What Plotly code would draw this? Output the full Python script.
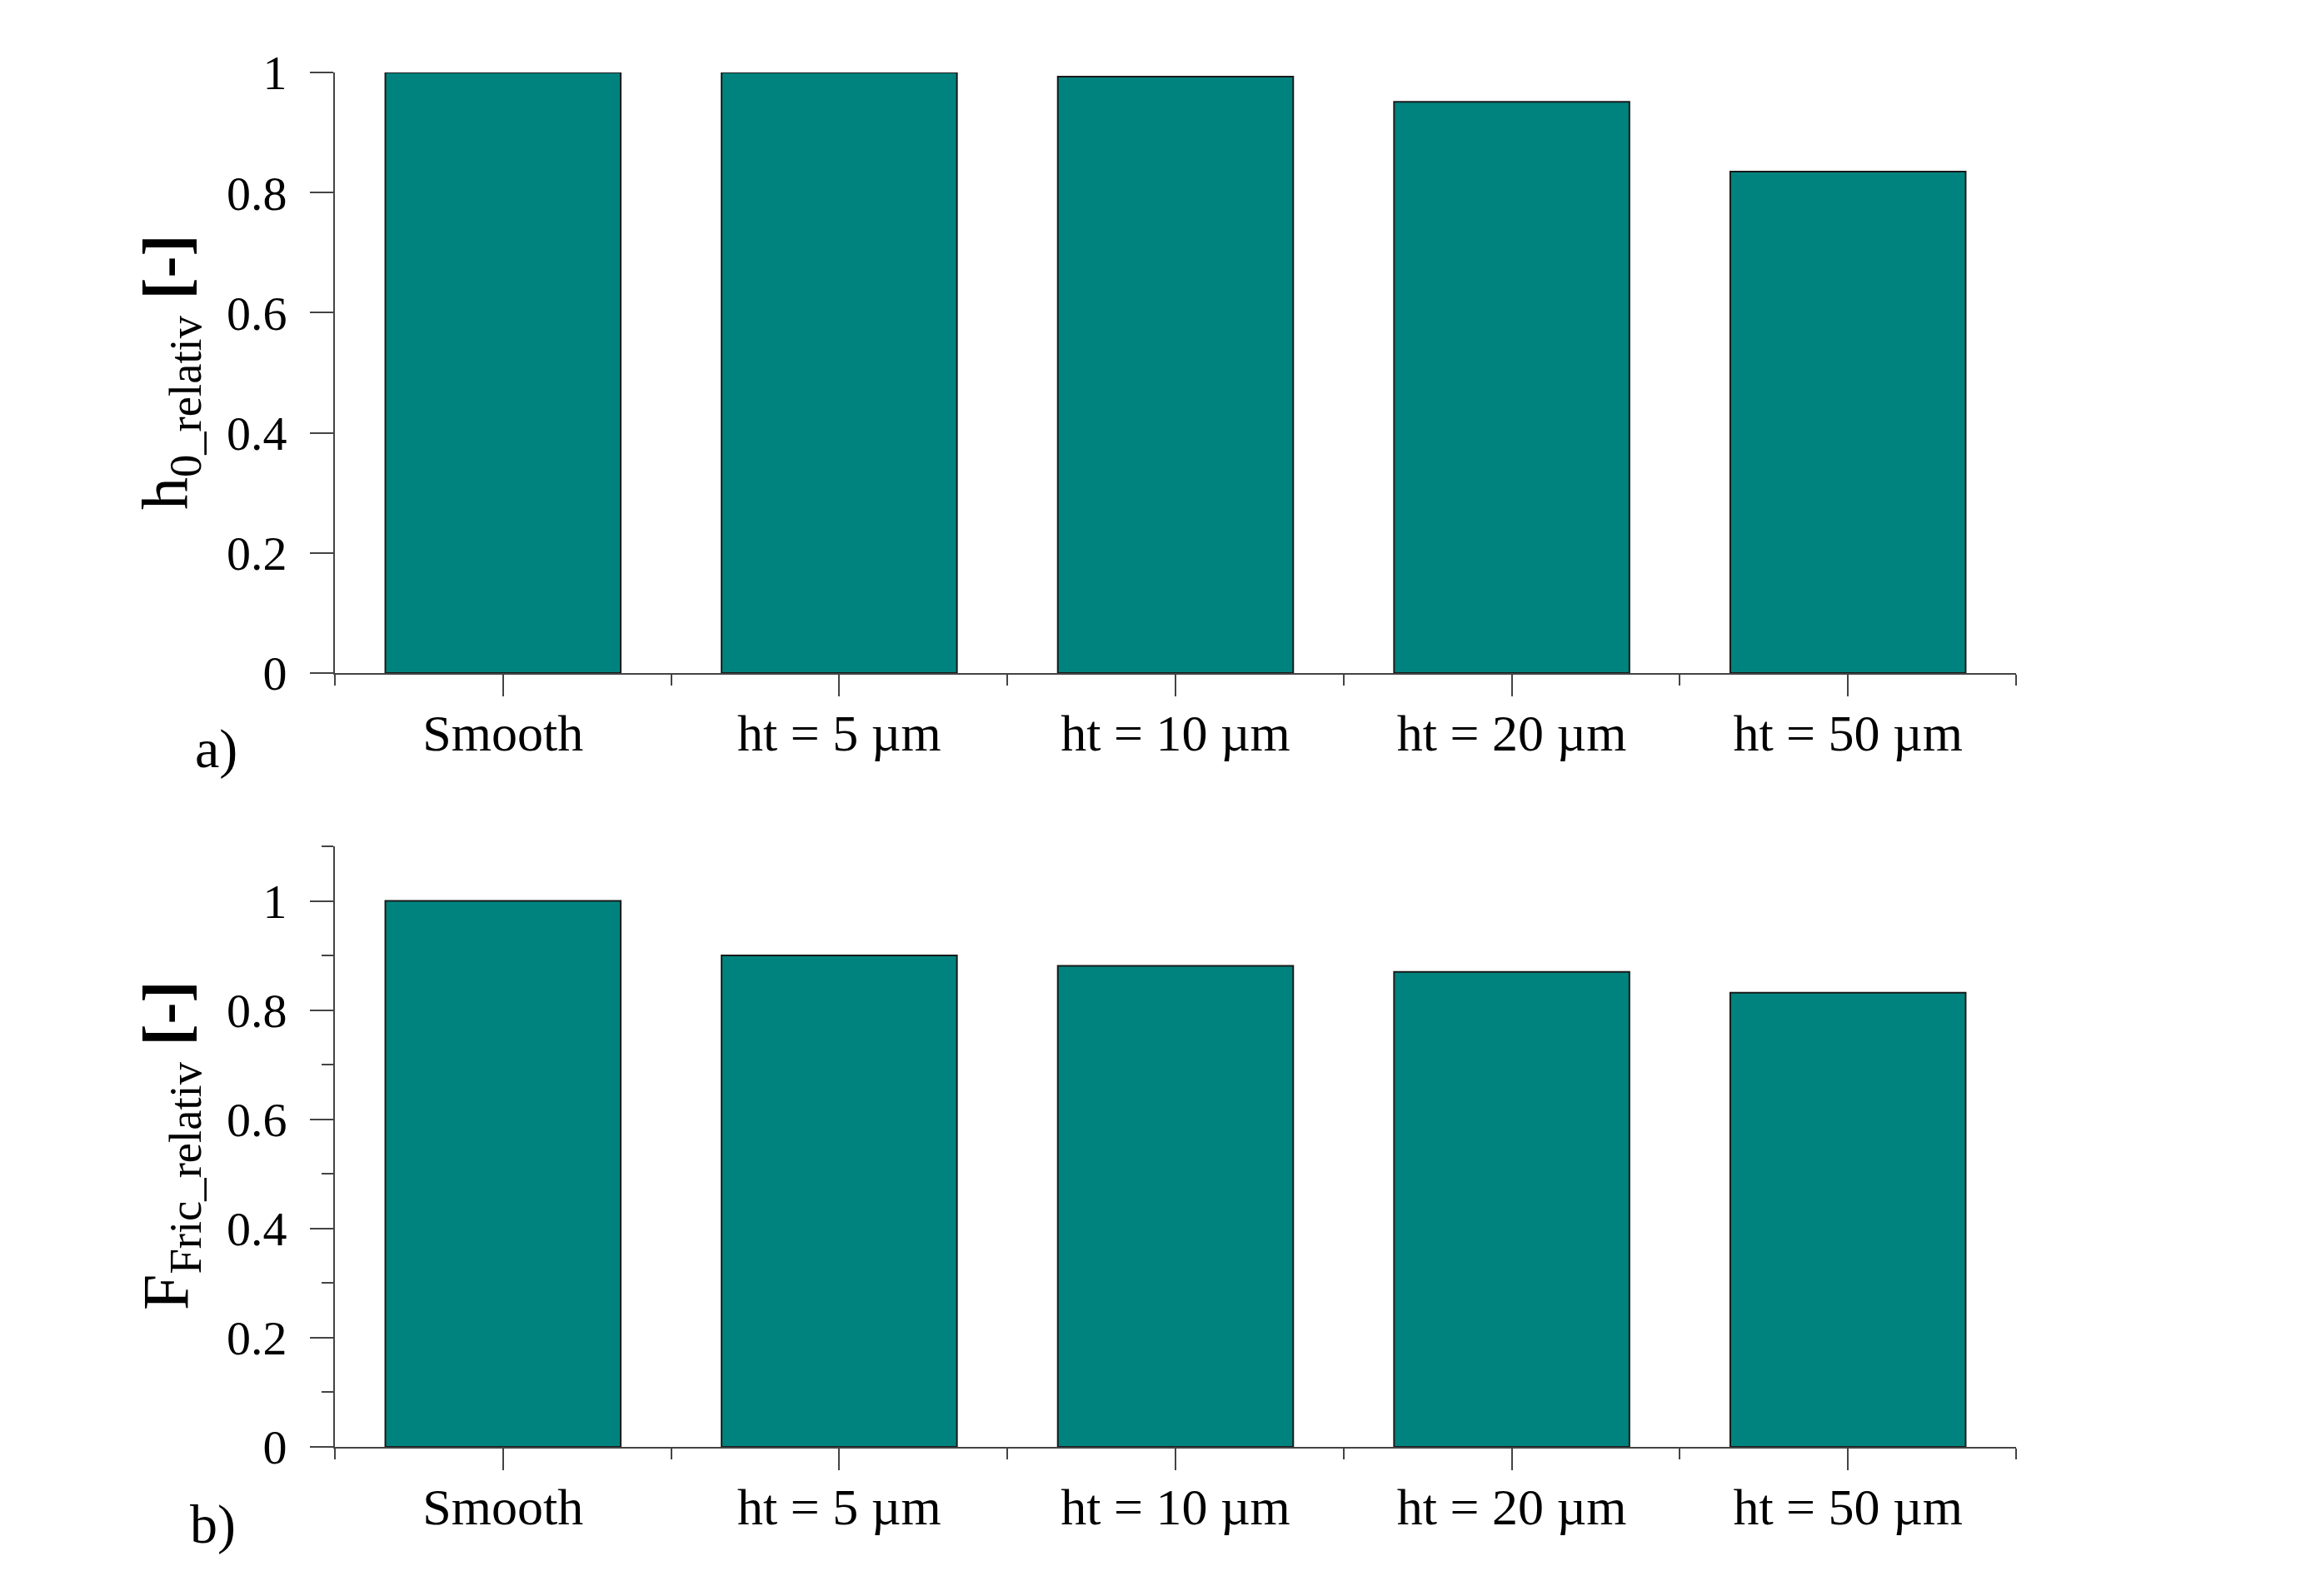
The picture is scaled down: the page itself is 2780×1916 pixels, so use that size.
import plotly.graph_objects as go

categories = ["Smooth", "ht = 5 µm", "ht = 10 µm", "ht = 20 µm", "ht = 50 µm"]
h0_relativ = [1.0, 1.0, 0.993, 0.951, 0.835]
ffric_relativ = [1.0, 0.900, 0.881, 0.870, 0.832]
y_ticks = [0, 0.2, 0.4, 0.6, 0.8, 1]
y_ticktext = ["0", "0.2", "0.4", "0.6", "0.8", "1"]

BAR = "#00837F"
AXIS = "#444444"
FONT = "Liberation Serif"
W, H = 2780, 1916
OFF = 8  # page body margin


def px(x):
    return (x - OFF) / W


def py(y):
    return (H - (y - OFF)) / H


xpos = list(range(len(categories)))
bounds = [i - 0.5 for i in range(len(categories) + 1)]

fig = go.Figure()
for vals, xa, ya in [(h0_relativ, "x", "y"), (ffric_relativ, "x2", "y2")]:
    fig.add_trace(
        go.Bar(
            x=xpos,
            y=vals,
            xaxis=xa,
            yaxis=ya,
            width=0.7,
            marker=dict(color=BAR, line=dict(color="#1a1a1a", width=2)),
            showlegend=False,
        )
    )

xaxis_common = dict(
    domain=[px(402), px(2420)],
    automargin=False,
    range=[-0.5, len(categories) - 0.5],
    tickmode="array",
    tickvals=xpos,
    ticktext=categories,
    ticks="outside",
    ticklen=26,
    tickwidth=2,
    tickcolor=AXIS,
    ticklabelstandoff=-9,
    showline=True,
    linecolor=AXIS,
    linewidth=2,
    showgrid=False,
    zeroline=False,
    tickfont=dict(family=FONT, size=62, color="black"),
    minor=dict(tickmode="array", tickvals=bounds, ticks="outside", ticklen=13, tickwidth=2, tickcolor=AXIS),
)
yaxis_common = dict(
    automargin=False,
    tickmode="array",
    tickvals=y_ticks,
    ticktext=y_ticktext,
    ticks="outside",
    ticklen=28,
    tickwidth=2,
    tickcolor=AXIS,
    ticklabelstandoff=16,
    showline=True,
    linecolor=AXIS,
    linewidth=2,
    showgrid=False,
    zeroline=False,
    tickfont=dict(family=FONT, size=58, color="black"),
)

label_font = dict(family=FONT, size=66, color="black")
title_font = dict(family=FONT, size=78, color="black")

fig.update_layout(
    width=W,
    height=H,
    margin=dict(l=0, r=0, t=0, b=0),
    paper_bgcolor="white",
    plot_bgcolor="white",
    xaxis=dict(xaxis_common, anchor="y"),
    yaxis=dict(yaxis_common, domain=[py(808), py(87)], range=[0, 1], anchor="x"),
    xaxis2=dict(xaxis_common, anchor="y2"),
    yaxis2=dict(
        yaxis_common,
        domain=[py(1737), py(1016)],
        range=[0, 1.1],
        anchor="x2",
        minor=dict(dtick=0.1, tick0=0, ticks="outside", ticklen=14, tickwidth=2, tickcolor=AXIS),
    ),
    annotations=[
        dict(text="h<sub>0_relativ</sub> <b>[-]</b>", x=px(204), y=py(447),
             xref="paper", yref="paper", xanchor="center", yanchor="middle",
             textangle=-90, showarrow=False, font=title_font),
        dict(text="F<sub>Fric_relativ</sub> <b>[-]</b>", x=px(204), y=py(1375),
             xref="paper", yref="paper", xanchor="center", yanchor="middle",
             textangle=-90, showarrow=False, font=title_font),
        dict(text="a)", x=px(259), y=py(899), xref="paper", yref="paper",
             xanchor="center", yanchor="middle", showarrow=False, font=label_font),
        dict(text="b)", x=px(255), y=py(1830), xref="paper", yref="paper",
             xanchor="center", yanchor="middle", showarrow=False, font=label_font),
    ],
)

fig.write_html("out.html")
